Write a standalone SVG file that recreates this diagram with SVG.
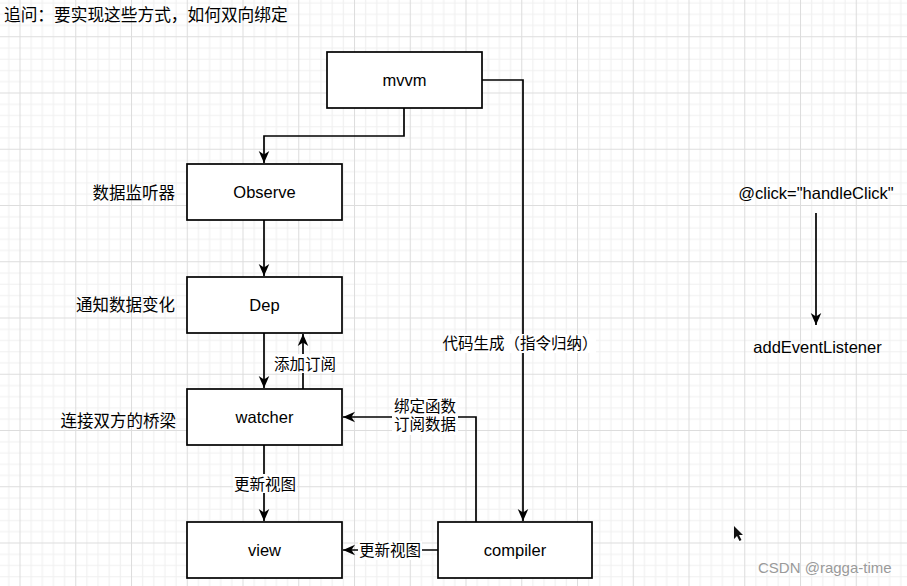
<svg xmlns="http://www.w3.org/2000/svg" width="907" height="586" viewBox="0 0 907 586">
<style>
.box{fill:#fff;stroke:#000;stroke-width:1.7}
.nt{font-family:"Liberation Sans","Noto Sans CJK SC",sans-serif;font-size:16.5px;fill:#000;text-anchor:middle}
.cn{font-family:"Liberation Sans","Noto Sans CJK SC",sans-serif;fill:#000}
.side{font-size:16.5px;text-anchor:end}
.el{font-size:15.5px;text-anchor:middle}
.lbg{fill:#fff}
.con{fill:none;stroke:#000;stroke-width:1.7}
.minor{stroke:#f0f0f0;stroke-width:1}
.major{stroke:#dddddd;stroke-width:1}
</style>
<defs>
<pattern id="grid" patternUnits="userSpaceOnUse" x="19.5" y="36.25" width="55.75" height="56.25">
<rect width="55.75" height="56.25" fill="#fff"/>
<path class="minor" d="M11.65,0V56.25M22.8,0V56.25M33.95,0V56.25M45.1,0V56.25M0,11.75H55.75M0,23H55.75M0,34.25H55.75M0,45.5H55.75"/>
<path class="major" d="M0.5,0V56.25M0,0.5H55.75"/>
</pattern>
<marker id="arr" markerUnits="userSpaceOnUse" markerWidth="12" markerHeight="12" viewBox="0 0 10 10" refX="10" refY="5" orient="auto">
<path d="M0,0.6L10,5L0,9.4L3,5Z" fill="#000"/>
</marker>
</defs>
<rect width="907" height="586" fill="url(#grid)"/>

<text class="cn" x="4" y="21" font-size="16.7">追问：要实现这些方式，如何双向绑定</text>

<g id="connectors">
<path class="con" d="M404,108V136H264V163" marker-end="url(#arr)"/>
<path class="con" d="M264,220V276" marker-end="url(#arr)"/>
<path class="con" d="M264,333V388" marker-end="url(#arr)"/>
<path class="con" d="M303,389V334" marker-end="url(#arr)"/>
<path class="con" d="M264,445V521" marker-end="url(#arr)"/>
<path class="con" d="M476,522V417H343" marker-end="url(#arr)"/>
<path class="con" d="M438,550H343" marker-end="url(#arr)"/>
<path class="con" d="M482,80H523V521" marker-end="url(#arr)"/>
<path class="con" d="M816,213V325" marker-end="url(#arr)"/>
<g id="edge-labels">
<rect class="lbg" x="273" y="354" width="64" height="19"/>
<text class="cn el" x="305" y="370">添加订阅</text>
<rect class="lbg" x="392" y="397" width="66" height="38"/>
<text class="cn el" x="425" y="412">绑定函数</text>
<text class="cn el" x="425" y="430">订阅数据</text>
<rect class="lbg" x="233" y="474" width="64" height="19"/>
<text class="cn el" x="265" y="490">更新视图</text>
<rect class="lbg" x="358" y="541" width="64" height="19"/>
<text class="cn el" x="390" y="556">更新视图</text>
<rect class="lbg" x="445" y="334" width="151" height="19"/>
<text class="cn el" x="520" y="349">代码生成（指令归纳）</text>
</g>
</g>

<g id="mvvm"><rect class="box" x="327" y="52" width="155" height="56"/><text class="nt" x="404.5" y="86">mvvm</text></g>
<g id="observe"><rect class="box" x="187" y="164" width="155" height="56"/><text class="nt" x="264.5" y="198">Observe</text></g>
<g id="dep"><rect class="box" x="187" y="277" width="155" height="56"/><text class="nt" x="264.5" y="311">Dep</text></g>
<g id="watcher"><rect class="box" x="187" y="389" width="155" height="56"/><text class="nt" x="264.5" y="423">watcher</text></g>
<g id="view"><rect class="box" x="187" y="522" width="155" height="56"/><text class="nt" x="264.5" y="556">view</text></g>
<g id="compiler"><rect class="box" x="438" y="522" width="154" height="56"/><text class="nt" x="515" y="556">compiler</text></g>

<g id="side-labels">
<text class="cn side" x="175" y="198.5">数据监听器</text>
<text class="cn side" x="175" y="311">通知数据变化</text>
<text class="cn side" x="176" y="426.5">连接双方的桥梁</text>
</g>

<g id="click"><text class="nt" x="816" y="199">@click="handleClick"</text></g>
<g id="addEventListener"><text class="nt" x="817.5" y="353">addEventListener</text></g>

<path d="M734,526L734,539L737,536L739.5,541L741.5,540L739,535L743,535Z" fill="#111"/>
<text x="758" y="573" font-family="Liberation Sans, sans-serif" font-size="15" fill="#9a9a9a">CSDN @ragga-time</text>
</svg>
